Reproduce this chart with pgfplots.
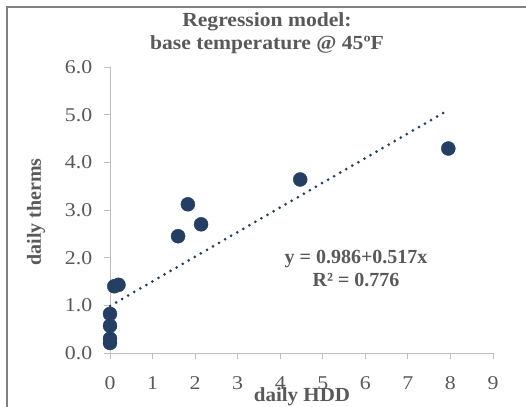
\documentclass[border=0pt]{standalone}
\usepackage{pgfplots}
\pgfplotsset{compat=1.18}
\usepackage{fontspec}
\setmainfont{Liberation Serif}
\definecolor{txtgray}{HTML}{595959}
\definecolor{axgray}{HTML}{BFBFBF}
\definecolor{framegray}{HTML}{808080}
\definecolor{navy}{HTML}{243F63}
\begin{document}
\begin{tikzpicture}[x=1pt,y=1pt]
\useasboundingbox (0,0) rectangle (526,406);
\draw[framegray, line width=1.6pt] (7,-20) -- (7,399) -- (560,399);
\begin{axis}[
  at={(110pt,53pt)}, anchor=origin,
  scale only axis, width=383pt, height=286pt,
  xmin=0, xmax=9, ymin=0, ymax=6,
  xtick={0,1,...,9}, ytick={0,1,...,6},
  axis x line*=bottom, axis y line*=left,
  axis line style={axgray, line width=1pt, -},
  tick style={axgray, line width=1pt},
  tick align=outside, major tick length=6pt,
  yticklabel style={/pgf/number format/fixed, /pgf/number format/fixed zerofill, /pgf/number format/precision=1, xshift=-7pt},
  /pgf/number format/assume math mode=true,
  ticklabel style={font=\fontsize{19.5}{22}\selectfont, text=txtgray, xscale=1.12},
  xticklabel style={yshift=-14pt},
  clip=false,
]
\addplot[only marks, mark=*, mark size=7pt, color=navy, mark options={draw=navy, fill=navy}] coordinates {
(0,0.21) (0,0.30) (0,0.57) (0,0.82) (0.1,1.40) (0.2,1.43)
(1.60,2.45) (1.83,3.12) (2.14,2.70) (4.47,3.64) (7.95,4.29)
};
\addplot[navy, line width=3pt, line cap=round, dash pattern=on 0pt off 7pt] coordinates {(0,0.986) (7.91,5.076)};
\end{axis}
\node[font=\fontsize{20}{23}\selectfont\bfseries, text=txtgray, align=center, xscale=1.08] at (267,372.5) {Regression model:\\base temperature @ 45ºF};
\node[font=\fontsize{20}{23}\selectfont\bfseries, text=txtgray, rotate=90] at (36,194) {daily therms};
\node[font=\fontsize{20}{23}\selectfont\bfseries, text=txtgray, xscale=1.05] at (302,9) {daily HDD};
\node[font=\fontsize{20}{23}\selectfont\bfseries, text=txtgray, align=center] at (356,137.5) {y = 0.986+0.517x\\R² = 0.776};
\end{tikzpicture}
\end{document}
